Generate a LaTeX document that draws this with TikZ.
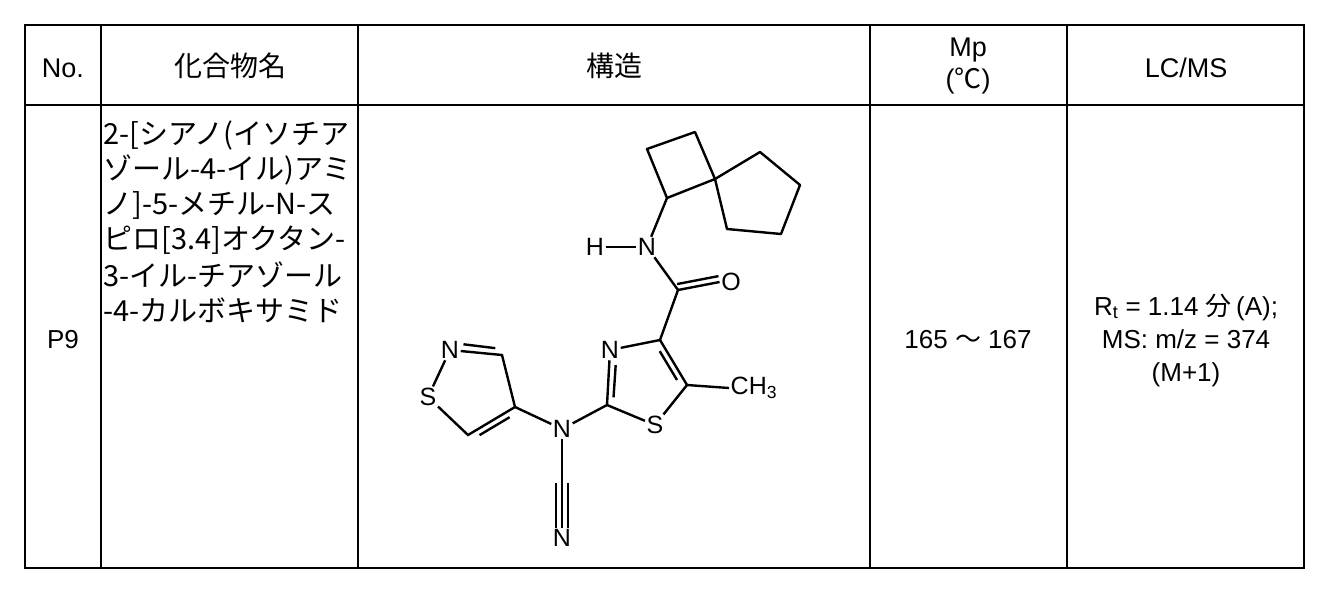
\documentclass[tikz,border=0pt]{standalone}
\usepackage{fontspec}
\setmainfont{Liberation Sans}
\newfontfamily\cjk{Noto Sans CJK JP}
\usetikzlibrary{calc}
\begin{document}
\begin{tikzpicture}[x=1pt,y=-1pt,
  grid/.style={line width=2.4pt},
  bond/.style={line width=2.4pt},
  atom/.style={inner sep=1.5pt,font=\fontsize{25}{25}\selectfont},
  hdr/.style={font=\fontsize{27}{32}\selectfont,align=center},
  nm/.style={anchor=west,inner sep=0pt,font=\fontsize{29}{29}\selectfont\cjk},
  cell/.style={font=\fontsize{26}{33}\selectfont,align=center}]
\useasboundingbox (0,0) rectangle (1332,592);
% table
\draw[grid] (25,25) rectangle (1304,568);
\draw[grid] (25,105) -- (1304,105);
\foreach \xx in {101,358,870,1067} \draw[grid] (\xx,25) -- (\xx,568);
\node[hdr] (h1) at (63,68) {No.};
\node[hdr,font=\fontsize{28}{28}\selectfont\cjk] (h2) at (230,66) {化合物名};
\node[hdr,font=\fontsize{28}{28}\selectfont\cjk] (h3) at (614,66) {構造};
\node[hdr] (h4) at (968,66) {Mp\\({\cjk ℃})};
\node[hdr] (h5) at (1186,68) {LC/MS};
\node[cell] (p9) at (63,340) {P9};
\node[nm] (l1) at (103,135) {2-[シアノ(イソチア};
\node[nm] (l2) at (103,170) {ゾール-4-イル)アミ};
\node[nm] (l3) at (103,205) {ノ]-5-メチル-N-ス};
\node[nm] (l4) at (103,240) {ピロ[3.4]オクタン-};
\node[nm] (l5) at (103,275) {3-イル-チアゾール};
\node[nm] (l6) at (103,310) {-4-カルボキサミド};
\node[cell] (mp) at (968,340) {165 {\cjk ～} 167};
\node[cell] (ms) at (1186,340) {R\textsubscript{t} = 1.14 {\cjk 分}\,({A});\\MS: m/z = 374\\(M+1)};
% structure
\coordinate (cb1) at (647,149); \coordinate (cb2) at (695,132);
\coordinate (sp) at (715,179); \coordinate (c1) at (667,198);
\coordinate (cp1) at (760,152); \coordinate (cp2) at (800,185);
\coordinate (cp3) at (781,234); \coordinate (cp4) at (727,229);
\node[atom] (Nam) at (647,247) {N};
\node[atom] (H) at (595,247) {H};
\coordinate (cc) at (678,290);
\node[atom] (O) at (731,282) {O};
\coordinate (t4) at (660,340);
\node[atom] (N3) at (610,350) {N};
\coordinate (t2) at (607,405);
\node[atom] (S1) at (655,425) {S};
\coordinate (t5) at (687,385);
\node[atom,anchor=west] (Me) at (729,388) {CH\textsubscript{3}};
\node[atom] (Na) at (562,429) {N};
\coordinate (cn) at (562,483);
\node[atom] (Nn) at (562,538) {N};
\coordinate (i4) at (515,407); \coordinate (i3) at (502,355);
\node[atom] (N2) at (450,350) {N};
\node[atom] (S2) at (428,397) {S};
\coordinate (i5) at (468,435);
\draw[bond,line join=round] (cb1) -- (cb2) -- (sp) -- (c1) -- cycle;
\draw[bond,line join=round] (sp) -- (cp1) -- (cp2) -- (cp3) -- (cp4) -- cycle;
\draw[bond] (c1) -- (Nam); \draw[bond] (H) -- (Nam); \draw[bond] (Nam) -- (cc);
\draw[bond] (cc) -- (O.west);
\draw[bond] ($(cc)!6pt!90:(O)$) -- ($(O.west)!6pt!-90:(cc)$);
\draw[bond] (cc) -- (t4);
\draw[bond] (t4) -- (N3); \draw[bond] (N3) -- (t2); \draw[bond] (t2) -- (S1);
\draw[bond] (S1) -- (t5); \draw[bond] (t5) -- (t4); \draw[bond] (t5) -- (Me.west);
\draw[bond] ($(N3.south)!.1!(t2)!6pt!90:(t2)$) -- ($(t2)!.18!(N3.south)!6pt!-90:(N3.south)$);
\draw[bond] ($(t4)!.18!(t5)!6pt!-90:(t5)$) -- ($(t5)!.18!(t4)!6pt!90:(t4)$);
\draw[bond] (t2) -- (Na); \draw[bond] (Na) -- (i4);
\draw[bond] (Na) -- (cn) -- (Nn);
\draw[bond] ($(cn)+(-6,0)$) -- ($(Nn.north)+(-6,0)$);
\draw[bond] ($(cn)+(6,0)$) -- ($(Nn.north)+(6,0)$);
\draw[bond] (i4) -- (i3) -- (N2); \draw[bond] (N2) -- (S2); \draw[bond] (S2) -- (i5) -- (i4);
\draw[bond] ($(N2.east)!.05!(i3)!6pt!90:(i3)$) -- ($(i3)!.18!(N2.east)!6pt!-90:(N2.east)$);
\draw[bond] ($(i4)!.18!(i5)!6pt!90:(i5)$) -- ($(i5)!.18!(i4)!6pt!-90:(i4)$);
\end{tikzpicture}
\end{document}
